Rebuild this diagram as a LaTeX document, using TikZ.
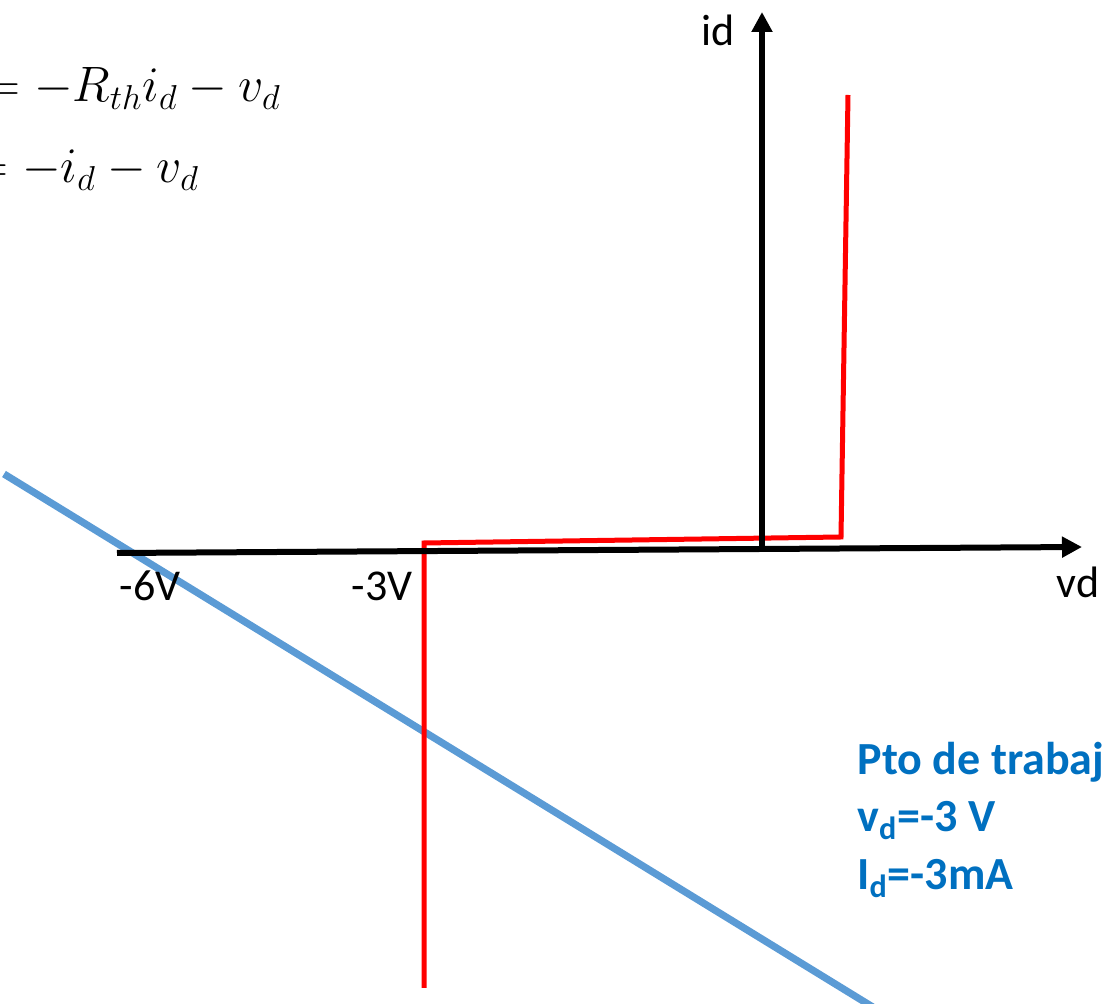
\documentclass[tikz,border=0pt]{standalone}
\usepackage{amsmath}
\usepackage[no-math]{fontspec}
\setmainfont{Carlito}
\usepackage{tikz}
\usetikzlibrary{arrows.meta,calc,positioning}
\definecolor{curvered}{RGB}{255,0,0}
\definecolor{loadblue}{RGB}{91,155,213}
\definecolor{textblue}{RGB}{0,112,192}

\begin{document}
\begin{tikzpicture}[x=0.5pt, y=-0.5pt,
    axis/.style={line width=3pt, -{Triangle[length=10pt,width=10pt]}},
    lbl/.style={inner sep=0pt, font=\fontsize{22}{26}\selectfont},
    eqn/.style={inner sep=0pt, anchor=base west, font=\fontsize{24}{28}\selectfont},
    ptext/.style={inner sep=0pt, anchor=base west, text=textblue, font=\fontsize{23}{27}\selectfont\bfseries}]
            \useasboundingbox (0,0) rectangle (1110,1004);
            \clip (0,0) rectangle (1110,1004);
            % Define points
            \coordinate (XL) at (117,553);
            \coordinate (XR) at (1082,547);
            \coordinate (YB) at (762,549);
            \coordinate (YT) at (762,12);
            \coordinate (Vbot) at (424,988);
            \coordinate (Vknee) at (424,543);
            \coordinate (Iknee) at (841,537);
            \coordinate (Itop) at (848,95);
            \coordinate (LA) at (4,474);
            \coordinate (LB) at (876,1009);
            % Draw the load line
            \draw[loadblue, line width=3.6pt] (LA) -- (LB);
            % Draw the diode curve
            \draw[curvered, line width=2.5pt] (Vbot) -- (Vknee) -- (Iknee) -- (Itop);
            % Draw axes
            \draw[axis] (XL) -- (XR);
            \draw[axis] (YB) -- (YT);
            % Axis labels
            \node[lbl] (id) at (718,30) {id};
            \node[lbl] (vd) at (1078,582) {vd};
            \node[lbl] (m6) at (150,586) {-6V};
            \node[lbl] (m3) at (382,586) {-3V};
            % Equations
            \node[eqn] (eq1) at (-16,102) {$= -R_{th}i_d - v_d$};
            \node[eqn] (eq2) at (-28,183) {$= -i_d - v_d$};
            % Operating point
            \node[ptext] (pto) at (857,775) {Pto de trabaj};
            \node[ptext] (pv) at (857,832) {v\textsubscript{d}=-3 V};
            \node[ptext] (pi) at (857,890) {I\textsubscript{d}=-3mA};
          \end{tikzpicture}
\end{document}
